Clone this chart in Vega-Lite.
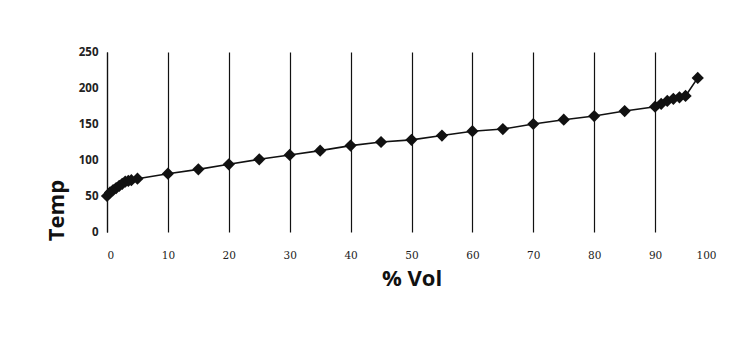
{
  "$schema": "https://vega.github.io/schema/vega-lite/v6.json",
  "width": 609,
  "height": 180,
  "autosize": {"type": "none"},
  "padding": {"left": 107, "top": 52, "right": 23, "bottom": 107},
  "background": "white",
  "config": {
    "view": {"stroke": null},
    "font": "Lato"
  },
  "data": {
    "values": [
      {"vol": 0, "temp": 50},
      {"vol": 0.5, "temp": 55},
      {"vol": 1, "temp": 58},
      {"vol": 1.5, "temp": 61},
      {"vol": 2, "temp": 64},
      {"vol": 2.5, "temp": 67},
      {"vol": 3, "temp": 70},
      {"vol": 3.5, "temp": 71},
      {"vol": 4, "temp": 72},
      {"vol": 5, "temp": 74},
      {"vol": 10, "temp": 81},
      {"vol": 15, "temp": 87},
      {"vol": 20, "temp": 94},
      {"vol": 25, "temp": 101},
      {"vol": 30, "temp": 107},
      {"vol": 35, "temp": 113},
      {"vol": 40, "temp": 120},
      {"vol": 45, "temp": 125},
      {"vol": 50, "temp": 128},
      {"vol": 55, "temp": 134},
      {"vol": 60, "temp": 140},
      {"vol": 65, "temp": 143},
      {"vol": 70, "temp": 150},
      {"vol": 75, "temp": 156},
      {"vol": 80, "temp": 161},
      {"vol": 85, "temp": 168},
      {"vol": 90, "temp": 174},
      {"vol": 91, "temp": 178},
      {"vol": 92, "temp": 182},
      {"vol": 93, "temp": 185},
      {"vol": 94, "temp": 187},
      {"vol": 95, "temp": 189},
      {"vol": 97, "temp": 214}
    ]
  },
  "encoding": {
    "x": {
      "field": "vol",
      "type": "quantitative",
      "scale": {"domain": [0, 100], "nice": false, "zero": false},
      "axis": {
        "title": "% Vol",
        "values": [0, 10, 20, 30, 40, 50, 60, 70, 80, 90, 100],
        "gridColor": {"condition": {"test": "datum.value === 100", "value": "transparent"}, "value": "#111111"},
        "gridOpacity": 1,
        "gridWidth": 1.2,
        "domain": false,
        "ticks": false,
        "labelPadding": 18,
        "labelFont": "DejaVu Serif",
        "labelFontSize": 10.5,
        "labelColor": "#222222",
        "titleFont": "Open Sans",
        "titleFontSize": 22,
        "titleFontWeight": "bold",
        "titleColor": "#111111",
        "titlePadding": 8
      }
    },
    "y": {
      "field": "temp",
      "type": "quantitative",
      "scale": {"domain": [0, 250], "nice": false},
      "axis": {
        "title": "Temp",
        "values": [0, 50, 100, 150, 200, 250],
        "grid": false,
        "domain": true,
        "domainColor": "#111111",
        "domainWidth": 1.2,
        "ticks": false,
        "labelPadding": 9,
        "labelFont": "Open Sans",
        "labelFontSize": 11.5,
        "labelFontWeight": "bold",
        "labelColor": "#222222",
        "titleFont": "Open Sans",
        "titleFontSize": 22,
        "titleFontWeight": "bold",
        "titleColor": "#111111",
        "titleAngle": -90,
        "titleAlign": "center",
        "titleBaseline": "middle",
        "titleX": -51,
        "titleY": 158
      }
    }
  },
  "layer": [
    {
      "mark": {"type": "line", "color": "#111111", "strokeWidth": 1.6}
    },
    {
      "mark": {"type": "point", "shape": "diamond", "filled": true, "size": 150, "color": "#111111", "opacity": 1}
    }
  ]
}
